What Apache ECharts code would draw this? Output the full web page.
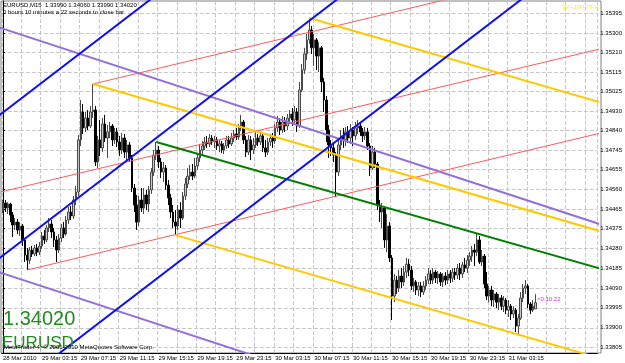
<!DOCTYPE html>
<html>
<head>
<meta charset="utf-8">
<script src="https://cdn.jsdelivr.net/npm/echarts@6/dist/echarts.min.js"></script>
<style>
html, body { margin: 0; padding: 0; background: #fff; }
#chart { width: 625px; height: 363px; }
</style>
</head>
<body>
<div id="chart"></div>
<script>
// EURUSD M15 bars: [open, close, low, high]
const candles = [
  [1.34460,1.34494,1.34446,1.34508],[1.34494,1.34470,1.34451,1.34508],[1.34470,1.34489,1.34441,1.34498],[1.34489,1.34437,1.34403,1.34494],
  [1.34437,1.34389,1.34332,1.34451],[1.34389,1.34403,1.34365,1.34422],[1.34403,1.34365,1.34346,1.34418],[1.34365,1.34384,1.34337,1.34403],
  [1.34384,1.34318,1.34289,1.34394],[1.34318,1.34246,1.34213,1.34327],[1.34246,1.34222,1.34175,1.34280],[1.34222,1.34270,1.34203,1.34284],
  [1.34270,1.34251,1.34237,1.34289],[1.34251,1.34280,1.34241,1.34294],[1.34280,1.34260,1.34241,1.34299],[1.34260,1.34289,1.34246,1.34308],
  [1.34289,1.34337,1.34275,1.34356],[1.34337,1.34318,1.34299,1.34365],[1.34318,1.34375,1.34308,1.34389],[1.34375,1.34394,1.34356,1.34422],
  [1.34394,1.34356,1.34327,1.34413],[1.34356,1.34318,1.34284,1.34375],[1.34318,1.34270,1.34213,1.34337],[1.34270,1.34327,1.34256,1.34346],
  [1.34327,1.34375,1.34308,1.34394],[1.34375,1.34346,1.34327,1.34403],[1.34346,1.34413,1.34337,1.34432],[1.34413,1.34451,1.34394,1.34475],
  [1.34451,1.34432,1.34413,1.34479],[1.34432,1.34508,1.34418,1.34527],[1.34508,1.34546,1.34484,1.34575],[1.34546,1.34794,1.34527,1.34817],
  [1.34794,1.34927,1.34765,1.34984],[1.34927,1.34851,1.34822,1.34965],[1.34851,1.34898,1.34832,1.34927],[1.34898,1.34860,1.34841,1.34936],
  [1.34860,1.34927,1.34851,1.34955],[1.34927,1.34936,1.34898,1.35060],[1.34936,1.34689,1.34670,1.34955],[1.34689,1.34794,1.34660,1.34813],
  [1.34794,1.34756,1.34717,1.34889],[1.34756,1.34870,1.34736,1.34898],[1.34870,1.34803,1.34784,1.34913],[1.34803,1.34832,1.34708,1.34865],
  [1.34832,1.34860,1.34803,1.34879],[1.34860,1.34794,1.34765,1.34870],[1.34794,1.34832,1.34775,1.34851],[1.34832,1.34784,1.34760,1.34851],
  [1.34784,1.34746,1.34717,1.34813],[1.34746,1.34803,1.34727,1.34827],[1.34803,1.34736,1.34708,1.34822],[1.34736,1.34770,1.34698,1.34794],
  [1.34770,1.34708,1.34689,1.34784],[1.34708,1.34565,1.34546,1.34722],[1.34565,1.34484,1.34451,1.34584],[1.34484,1.34403,1.34365,1.34532],
  [1.34403,1.34508,1.34384,1.34527],[1.34508,1.34470,1.34451,1.34565],[1.34470,1.34532,1.34441,1.34565],[1.34532,1.34489,1.34460,1.34556],
  [1.34489,1.34556,1.34451,1.34575],[1.34556,1.34641,1.34537,1.34660],[1.34641,1.34722,1.34622,1.34746],[1.34722,1.34746,1.34698,1.34784],
  [1.34746,1.34689,1.34660,1.34765],[1.34689,1.34641,1.34613,1.34708],[1.34641,1.34660,1.34594,1.34689],[1.34660,1.34579,1.34556,1.34675],
  [1.34579,1.34518,1.34484,1.34603],[1.34518,1.34451,1.34422,1.34537],[1.34451,1.34403,1.34375,1.34484],[1.34403,1.34384,1.34341,1.34460],
  [1.34384,1.34460,1.34365,1.34484],[1.34460,1.34422,1.34375,1.34498],[1.34422,1.34527,1.34413,1.34546],[1.34527,1.34584,1.34508,1.34613],
  [1.34584,1.34622,1.34565,1.34660],[1.34622,1.34641,1.34603,1.34675],[1.34641,1.34622,1.34603,1.34679],[1.34622,1.34670,1.34613,1.34708],
  [1.34670,1.34708,1.34651,1.34727],[1.34708,1.34746,1.34689,1.34770],[1.34746,1.34765,1.34722,1.34789],[1.34765,1.34784,1.34746,1.34808],
  [1.34784,1.34775,1.34756,1.34813],[1.34775,1.34803,1.34760,1.34822],[1.34803,1.34784,1.34770,1.34817],[1.34784,1.34794,1.34756,1.34813],
  [1.34794,1.34765,1.34746,1.34808],[1.34765,1.34775,1.34736,1.34794],[1.34775,1.34746,1.34732,1.34789],[1.34746,1.34765,1.34727,1.34779],
  [1.34765,1.34794,1.34751,1.34813],[1.34794,1.34775,1.34756,1.34813],[1.34775,1.34803,1.34765,1.34827],[1.34803,1.34822,1.34784,1.34841],
  [1.34822,1.34808,1.34794,1.34851],[1.34808,1.34851,1.34794,1.34870],[1.34851,1.34879,1.34836,1.34913],[1.34879,1.34794,1.34775,1.34889],
  [1.34794,1.34736,1.34713,1.34813],[1.34736,1.34794,1.34722,1.34817],[1.34794,1.34746,1.34698,1.34813],[1.34746,1.34770,1.34727,1.34803],
  [1.34770,1.34803,1.34756,1.34832],[1.34803,1.34784,1.34765,1.34822],[1.34784,1.34813,1.34770,1.34832],[1.34813,1.34756,1.34736,1.34822],
  [1.34756,1.34736,1.34713,1.34794],[1.34736,1.34784,1.34722,1.34803],[1.34784,1.34803,1.34765,1.34822],[1.34803,1.34789,1.34756,1.34827],
  [1.34789,1.34851,1.34775,1.34870],[1.34851,1.34879,1.34832,1.34908],[1.34879,1.34841,1.34817,1.34898],[1.34841,1.34879,1.34827,1.34908],
  [1.34879,1.34860,1.34832,1.34903],[1.34860,1.34898,1.34841,1.34917],[1.34898,1.34917,1.34870,1.34936],[1.34917,1.34889,1.34860,1.34946],
  [1.34889,1.34927,1.34870,1.34955],[1.34927,1.34860,1.34832,1.34946],[1.34860,1.35032,1.34851,1.35070],[1.35032,1.35127,1.35022,1.35155],
  [1.35127,1.35203,1.35108,1.35232],[1.35203,1.35270,1.35174,1.35298],[1.35270,1.35317,1.35251,1.35374],[1.35317,1.35232,1.35203,1.35336],
  [1.35232,1.35270,1.35146,1.35298],[1.35270,1.35193,1.35127,1.35279],[1.35193,1.35232,1.35117,1.35260],[1.35232,1.35070,1.35022,1.35241],
  [1.35070,1.34984,1.34927,1.35089],[1.34984,1.34841,1.34784,1.35003],[1.34841,1.34770,1.34708,1.34865],[1.34770,1.34756,1.34717,1.34794],
  [1.34756,1.34722,1.34689,1.34775],[1.34722,1.34641,1.34522,1.34736],[1.34641,1.34770,1.34622,1.34794],[1.34770,1.34813,1.34746,1.34841],
  [1.34813,1.34794,1.34756,1.34851],[1.34794,1.34832,1.34765,1.34855],[1.34832,1.34803,1.34779,1.34860],[1.34803,1.34841,1.34775,1.34870],
  [1.34841,1.34813,1.34765,1.34855],[1.34813,1.34851,1.34794,1.34879],[1.34851,1.34860,1.34822,1.34889],[1.34860,1.34832,1.34813,1.34879],
  [1.34832,1.34813,1.34784,1.34851],[1.34813,1.34832,1.34794,1.34855],[1.34832,1.34765,1.34746,1.34851],[1.34765,1.34660,1.34622,1.34779],
  [1.34660,1.34736,1.34651,1.34765],[1.34736,1.34679,1.34660,1.34756],[1.34679,1.34484,1.34460,1.34689],[1.34484,1.34451,1.34403,1.34508],
  [1.34451,1.34470,1.34375,1.34494],[1.34470,1.34318,1.34280,1.34479],[1.34318,1.34384,1.34260,1.34441],[1.34384,1.34232,1.34213,1.34403],
  [1.34232,1.34051,1.33937,1.34246],[1.34051,1.34127,1.34022,1.34156],[1.34127,1.34089,1.34061,1.34146],[1.34089,1.34146,1.34070,1.34175],
  [1.34146,1.34118,1.34089,1.34184],[1.34118,1.34165,1.34099,1.34194],[1.34165,1.34203,1.34137,1.34232],[1.34203,1.34175,1.34146,1.34227],
  [1.34175,1.34099,1.34080,1.34194],[1.34099,1.34118,1.34070,1.34137],[1.34118,1.34080,1.34056,1.34127],[1.34080,1.34099,1.34051,1.34118],
  [1.34099,1.34070,1.34046,1.34118],[1.34070,1.34099,1.34056,1.34122],[1.34099,1.34127,1.34080,1.34146],[1.34127,1.34156,1.34108,1.34184],
  [1.34156,1.34127,1.34108,1.34175],[1.34127,1.34165,1.34108,1.34184],[1.34165,1.34137,1.34113,1.34175],[1.34137,1.34156,1.34108,1.34170],
  [1.34156,1.34118,1.34099,1.34165],[1.34118,1.34146,1.34094,1.34161],[1.34146,1.34127,1.34103,1.34165],[1.34127,1.34156,1.34108,1.34175],
  [1.34156,1.34137,1.34113,1.34175],[1.34137,1.34165,1.34118,1.34184],[1.34165,1.34151,1.34127,1.34184],[1.34151,1.34184,1.34132,1.34203],
  [1.34184,1.34156,1.34127,1.34208],[1.34156,1.34199,1.34137,1.34213],[1.34199,1.34184,1.34165,1.34232],[1.34184,1.34222,1.34161,1.34246],
  [1.34222,1.34241,1.34194,1.34260],[1.34241,1.34270,1.34213,1.34289],[1.34270,1.34260,1.34194,1.34299],[1.34260,1.34318,1.34241,1.34351],
  [1.34318,1.34213,1.34203,1.34337],[1.34213,1.34241,1.34194,1.34270],[1.34241,1.34108,1.34089,1.34251],[1.34108,1.34051,1.34032,1.34165],
  [1.34051,1.34080,1.34022,1.34099],[1.34080,1.34032,1.34003,1.34099],[1.34032,1.34061,1.33999,1.34080],[1.34061,1.34022,1.33994,1.34070],
  [1.34022,1.34042,1.33984,1.34061],[1.34042,1.34003,1.33984,1.34056],[1.34003,1.34032,1.33975,1.34051],[1.34032,1.33984,1.33965,1.34042],
  [1.33984,1.34003,1.33951,1.34032],[1.34003,1.33965,1.33937,1.34013],[1.33965,1.33984,1.33946,1.34003],[1.33984,1.33908,1.33880,1.33994],
  [1.33908,1.33946,1.33865,1.33965],[1.33946,1.34042,1.33937,1.34070],[1.34042,1.34089,1.34022,1.34108],[1.34089,1.34099,1.34061,1.34127],
  [1.34099,1.34013,1.33994,1.34108],[1.34013,1.33984,1.33965,1.34022],[1.33984,1.34003,1.33975,1.34032],[1.33990,1.34020,1.33990,1.34060]
];

// chart width in bar slots (includes the empty shift on the right)
const slotCount = 245;
const xTickLabels = ['28 Mar 2010', '29 Mar 03:15', '29 Mar 07:15', '29 Mar 11:15', '29 Mar 15:15', '29 Mar 19:15',
  '29 Mar 23:15', '30 Mar 03:15', '30 Mar 07:15', '30 Mar 11:15', '30 Mar 15:15', '30 Mar 19:15', '30 Mar 23:15', '31 Mar 03:15'];
const yTickValues = [1.35395, 1.35300, 1.35210, 1.35115, 1.35025, 1.34930, 1.34840, 1.34745, 1.34655,
  1.34560, 1.34465, 1.34375, 1.34280, 1.34185, 1.34090, 1.33995, 1.33900, 1.33805];
const lastPrice = 1.34020;

// drawn objects: [[bar, price], [bar, price]]
const blueLines = [
  [[-4.98, 1.34881], [68.52, 1.35532]],
  [[-4.98, 1.34200], [142.0, 1.35503]],
  [[15.43, 1.33710], [219.6, 1.35519]]
];
const redLines = [
  [[37, 1.35060], [203.3, 1.35520]],
  [[-4.98, 1.34535], [248.2, 1.35234]],
  [[10, 1.34175], [248.2, 1.34833]]
];
const yellowLines = [
  [[126, 1.35374], [248.2, 1.34964]],
  [[37, 1.35060], [248.2, 1.34351]],
  [[71, 1.34341], [248.2, 1.33746]]
];
const purpleLines = [
  [[-4.98, 1.35342], [248.2, 1.34383]],
  [[-4.98, 1.34177], [121.6, 1.33698]]
];
const greenLines = [
  [[63, 1.34784], [248.2, 1.34173]]
];

const chart = echarts.init(document.getElementById('chart'));

const categories = [];
for (let i = 0; i < slotCount; i++) categories.push(i);

const lineSeries = function (lines, color, width) {
    return lines.map(pts => ({
        type: 'line',
        xAxisIndex: 1,
        data: pts,
        showSymbol: false,
        silent: true,
        clip: true,
        z: 5,
        lineStyle: { color: color, width: width }
    }));
};

const smallFont = 'Liberation Sans';

chart.setOption({
    animation: false,
    backgroundColor: '#ffffff',
    grid: { left: 1, right: 24, top: 1, bottom: 10 },
    xAxis: [{
        type: 'category',
        data: categories,
        boundaryGap: true,
        axisLine: { lineStyle: { color: '#000' } },
        axisTick: {
            alignWithLabel: true,
            length: 2,
            interval: (i) => i % 16 === 0 && i / 16 < xTickLabels.length,
            lineStyle: { color: '#000' }
        },
        axisLabel: {
            interval: (i) => i % 16 === 0 && i / 16 < xTickLabels.length,
            formatter: (v, i) => xTickLabels[i / 16] || '',
            align: 'left',
            margin: 2,
            fontSize: 6,
            fontFamily: smallFont,
            color: '#000'
        },
        splitLine: {
            show: true,
            interval: (i) => i % 8 === 0,
            lineStyle: { color: '#c6c6c6', type: 'dashed', width: 1 }
        }
    }, {
        type: 'value',
        min: -0.5,
        max: slotCount - 0.5,
        show: false
    }],
    yAxis: {
        type: 'value',
        position: 'right',
        min: 1.33780,
        max: 1.35455,
        axisLine: { show: true, lineStyle: { color: '#000' } },
        axisTick: { show: true, length: 2, customValues: yTickValues, lineStyle: { color: '#000' } },
        axisLabel: {
            customValues: yTickValues,
            formatter: (v) => v.toFixed(5),
            margin: 3,
            fontSize: 6,
            fontFamily: smallFont,
            color: '#000'
        },
        splitLine: { show: true, lineStyle: { color: '#c6c6c6', type: 'dashed', width: 1 } }
    },
    series: [{
        type: 'candlestick',
        data: candles,
        barWidth: 2,
        z: 3,
        itemStyle: {
            color: '#c8c8c8',
            color0: '#000000',
            borderColor: '#4a4a4a',
            borderColor0: '#000000',
            borderWidth: 1
        },
        markLine: {
            symbol: 'none',
            silent: true,
            z: 10,
            data: [{ yAxis: lastPrice }],
            lineStyle: { opacity: 0 },
            label: {
                position: 'end',
                formatter: lastPrice.toFixed(5),
                color: '#fff',
                backgroundColor: '#000',
                fontSize: 6,
                fontFamily: smallFont,
                padding: [1, 2],
                distance: 2
            }
        }
    }]
        .concat(lineSeries(redLines, '#ff5a5a', 1))
        .concat(lineSeries(purpleLines, '#9370db', 2))
        .concat(lineSeries(yellowLines, '#ffc800', 2))
        .concat(lineSeries(greenLines, '#008000', 2))
        .concat(lineSeries(blueLines, '#1010ee', 2)),
    graphic: [
        { type: 'rect', shape: { x: 1, y: 1, width: 600, height: 352 }, z: 0, silent: true, style: { fill: 'none', stroke: '#808080', lineWidth: 1 } },
        { type: 'text', left: 3, top: 2, z: 100, style: { text: 'EURUSD,M15  1.33990 1.34060 1.33990 1.34020', font: '6px Liberation Sans', fill: '#000' } },
        { type: 'text', left: 3, top: 9, z: 100, style: { text: '0 hours 10 minutes a 22 seconds to close bar', font: '6px Liberation Sans', fill: '#000' } },
        { type: 'text', right: 26, top: 4, z: 100, style: { text: 'SP+20H TF E', font: '6px Liberation Sans', fill: '#ffe640' } },
        { type: 'text', left: 3, top: 309, z: 100, style: { text: '1.34020', font: '20px Liberation Sans', fill: '#228b22' } },
        { type: 'text', left: 2, top: 335, z: 100, style: { text: 'EURUSD', font: '17px Liberation Sans', fill: '#228b22' } },
        { type: 'text', left: 4, top: 344, z: 101, style: { text: 'MetaTrader 4, \u00a9 2001-2010 MetaQuotes Software Corp.', font: '6px Liberation Sans', fill: '#000' } },
        { type: 'text', left: 537, top: 296, z: 100, style: { text: '<0:10:22', font: '6px Liberation Sans', fill: '#c040c0' } }
    ]
});
</script>
</body>
</html>
